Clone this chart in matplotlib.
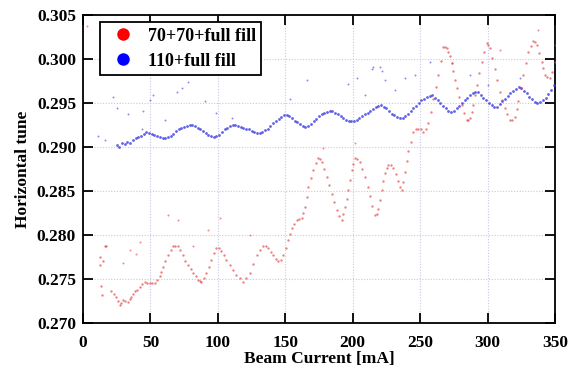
import matplotlib
matplotlib.use("Agg")
import matplotlib.pyplot as plt
from matplotlib.lines import Line2D

# ---- data ----
blue_x = [25, 27, 29, 31, 33, 35, 37, 39, 41, 43, 45, 47, 49, 51, 53, 55, 57, 59, 61, 63,
          65, 67, 69, 71, 73, 75, 77, 79, 81, 83, 85, 87, 89, 91, 93, 95, 97, 99, 101, 103,
          105, 107, 109, 111, 113, 115, 117, 119, 121, 123, 125, 127, 129, 131, 133, 135, 137, 139, 141, 143,
          145, 147, 149, 151, 153, 155, 157, 159, 161, 163, 165, 167, 169, 171, 173, 175, 177, 179, 181, 183,
          185, 187, 189, 191, 193, 195, 197, 199, 201, 203, 205, 207, 209, 211, 213, 215, 217, 219, 221, 223,
          225, 227, 229, 231, 233, 235, 237, 239, 241, 243, 245, 247, 249, 251, 253, 255, 257, 259, 261, 263,
          265, 267, 269, 271, 273, 275, 277, 279, 281, 283, 285, 287, 289, 291, 293, 295, 297, 299, 301, 303,
          305, 307, 309, 311, 313, 315, 317, 319, 321, 323, 325, 327, 329, 331, 333, 335, 337, 339, 341, 343,
          345, 347, 349]
blue_y = [.2902, .2900, .2904, .2903, .2906, .2905, .2908, .2910, .2911, .2913, .2915, .2917, .2916, .2915, .2914, .2912, .2911, .2910, .2910, .2911,
          .2913, .2915, .2918, .2920, .2922, .2923, .2924, .2925, .2925, .2924, .2922, .2920, .2918, .2916, .2914, .2912, .2911, .2912, .2914, .2917,
          .2920, .2922, .2924, .2925, .2925, .2924, .2923, .2922, .2921, .2920, .2918, .2917, .2916, .2916, .2917, .2919, .2921, .2924, .2927, .2930,
          .2932, .2934, .2936, .2936, .2935, .2933, .2930, .2928, .2926, .2924, .2923, .2924, .2926, .2929, .2932, .2935, .2937, .2939, .2940, .2941,
          .2941, .2939, .2937, .2935, .2933, .2931, .2930, .2929, .2929, .2931, .2933, .2935, .2937, .2939, .2941, .2943, .2945, .2947, .2948, .2946,
          .2944, .2941, .2938, .2936, .2934, .2933, .2933, .2935, .2938, .2941, .2944, .2947, .2950, .2953, .2955, .2957, .2958, .2959, .2956, .2953,
          .2950, .2947, .2944, .2941, .2940, .2941, .2944, .2947, .2950, .2953, .2956, .2959, .2961, .2963, .2962, .2959, .2956, .2953, .2950, .2948,
          .2946, .2946, .2949, .2952, .2955, .2958, .2961, .2964, .2966, .2968, .2967, .2964, .2961, .2957, .2954, .2951, .2950, .2951, .2953, .2956,
          .2960, .2965, .2970]
blue_out_x = [78, 69.5, 73.2, 52, 22.5, 25, 165.9, 153.5, 90.5, 110.3, 60.8, 43.5, 11.3, 16.3, 215.3, 220.2, 214,
              221.5, 203, 196.7, 209.1, 231.4, 238.8, 246.2, 257.3, 287, 300.5, 324, 224, 33.4, 44.5, 98.8, 49.4]
blue_out_y = [.2974, .2963, .2967, .2959, .2957, .2944, .2976, .2955, .2952, .2933, .2931, .2921, .2912, .2908, .2991, .2991, .2989,
              .2986, .2978, .2972, .2959, .2965, .2978, .2982, .2997, .2982, .2971, .2978, .2976, .2938, .2941, .2939, .2953]

red_x = [12.4, 14.8, 17.3, 13.6, 12.6, 16.3, 13.8, 21, 24.7, 27.2, 29.7, 33.4, 35.8, 38.3, 42, 45.7, 49.4, 53.2, 56.9, 59.3,
         63, 66.7, 70.4, 74.2, 77.9, 81.6, 85.3, 87.7, 91.4, 95.1, 98.8, 102.6, 106.3, 111.2, 116.2, 118.6, 123.6, 128.8, 133.7, 137.4,
         141.1, 144.8, 148.5, 152.2, 154.7, 158.5, 162.2, 164.6, 167.1, 170.8, 174.5, 177, 180.7, 184.4, 188.1, 191.8, 194.3, 196.7, 199.2, 201.7,
         205.4, 209.1, 212.8, 216.5, 219, 221.5, 223.9, 226.4, 230.1, 233.8, 236.3, 238.8, 241.2, 244.9, 248.6, 252.3, 256, 259.7, 263.4, 267.2,
         269.6, 272.1, 274.6, 277, 280.8, 284.5, 287, 289.4, 291.9, 295.6, 299.3, 301.8, 305.5, 309.2, 312.9, 316.6, 320.4, 322.8, 326.5, 330.3,
         334, 336.4, 340.1, 342.6, 346.3, 350,
         23, 26, 28.5, 31.5, 34.6, 37, 40, 44, 47.5, 51.3, 55, 58, 61, 65, 68.5, 72.3, 76, 79.8, 83.5, 86.5,
         89.5, 93.2, 97, 100.7, 104.5, 108.8, 113.7, 121, 126.2, 131.2, 135.5, 139.3, 143, 146.6, 150.3, 153.5, 156.6, 160.3, 163.4, 165.8,
         169, 172.6, 175.7, 178.8, 182.5, 186.2, 190, 193, 195.5, 198, 200.5, 203.5, 207.2, 211, 214.6, 217.8, 220.2, 222.7, 225.1, 228.2,
         232, 235, 237.5, 240, 243, 246.7, 250.4, 254.1, 257.8, 261.5, 265.3, 268.4, 270.8, 273.3, 275.8, 278.9, 282.6, 285.7, 288.2, 290.6,
         293.7, 297.4, 300.5, 303.6, 307.3, 311, 314.7, 318.5, 321.6, 324.6, 328.4, 332.1, 335.2, 338.2, 341.3, 344.4, 348]
red_y = [.2775, .2770, .2788, .2742, .2766, .2787, .2732, .2736, .2730, .2721, .2726, .2724, .2730, .2736, .2741, .2747, .2745, .2746, .2753, .2764,
         .2777, .2787, .2788, .2777, .2766, .2757, .2749, .2747, .2757, .2772, .2785, .2782, .2772, .2760, .2751, .2747, .2757, .2777, .2787, .2785,
         .2777, .2770, .2777, .2794, .2808, .2817, .2819, .2832, .2855, .2874, .2887, .2883, .2866, .2847, .2828, .2817, .2832, .2851, .2874, .2887,
         .2883, .2866, .2844, .2823, .2830, .2851, .2870, .2880, .2876, .2861, .2851, .2872, .2895, .2917, .2921, .2917, .2927, .2955, .2982, .3014,
         .3012, .3003, .2986, .2967, .2948, .2931, .2933, .2948, .2971, .2997, .3018, .3012, .2989, .2963, .2944, .2931, .2934, .2952, .2982, .3008,
         .3020, .3016, .2997, .2982, .2978, .2997,
         .2733, .2725, .2723, .2725, .2727, .2733, .2738, .2744, .2746, .2745, .2749, .2758, .2770, .2783, .2788, .2783, .2771, .2761, .2753, .2748,
         .2751, .2764, .2779, .2785, .2777, .2766, .2755, .2751, .2767, .2783, .2787, .2781, .2773, .2772, .2785, .2801, .2813, .2818, .2825, .2843,
         .2865, .2882, .2886, .2875, .2857, .2837, .2822, .2824, .2841, .2862, .2881, .2886, .2875, .2855, .2833, .2824, .2840, .2861, .2876, .2879,
         .2869, .2855, .2860, .2884, .2906, .2920, .2920, .2921, .2940, .2968, .2998, .3014, .3008, .2995, .2976, .2957, .2939, .2931, .2940, .2959,
         .2984, .3008, .3016, .3001, .2976, .2953, .2937, .2931, .2943, .2967, .2995, .3015, .3019, .3007, .2990, .2979, .2985]
red_out_x = [2.7, 273.4, 309.2, 337.6, 350, 201.7, 178.2, 63.3, 70.7, 101.6, 92.9, 42.3, 34.9, 29.7, 39.5, 81.6, 123.8]
red_out_y = [.3037, .2995, .3010, .3033, .3016, .2905, .2899, .2823, .2817, .2819, .2806, .2792, .2783, .2768, .2778, .2787, .2800]

series_labels = ["70+70+full fill", "110+full fill"]
x_ticks = [0, 50, 100, 150, 200, 250, 300, 350]
y_ticks = [0.270, 0.275, 0.280, 0.285, 0.290, 0.295, 0.300, 0.305]

# ---- plot ----
plt.rcParams['font.family'] = ['Liberation Serif', 'DejaVu Serif']
plt.rcParams['font.weight'] = 'bold'

fig = plt.figure(figsize=(5.7, 3.75), dpi=100)
ax = fig.add_axes([0.1456, 0.1387, 0.828, 0.8213])

red_c = '#e23a3a'
blue_c = '#3a3ae2'
ax.plot(blue_x, blue_y, 'o', ms=2.0, mew=0, color=blue_c, alpha=0.8, zorder=3)
ax.plot(blue_out_x, blue_out_y, 'o', ms=1.4, mew=0, color=blue_c, alpha=0.6, zorder=3)
ax.plot(red_x, red_y, 'o', ms=1.7, mew=0, color=red_c, alpha=0.65, zorder=3)
ax.plot(red_out_x, red_out_y, 'o', ms=1.4, mew=0, color=red_c, alpha=0.6, zorder=3)

ax.set_xlim(0, 350)
ax.set_ylim(0.270, 0.305)
ax.set_xticks(x_ticks)
ax.set_yticks(y_ticks)
ax.set_xticklabels([str(v) for v in x_ticks])
ax.set_yticklabels(["%.3f" % v for v in y_ticks])
ax.grid(True, linestyle=(0, (1, 1.5)), color='#c8c8e6', linewidth=0.8)
ax.tick_params(direction='in', length=7, width=1.3, top=True, right=True,
               labelsize=12.5)
ax.tick_params(axis='x', pad=9)
ax.tick_params(axis='y', pad=5)
for s in ax.spines.values():
    s.set_linewidth(1.3)
ax.set_xlabel("Beam Current [mA]", fontsize=12.5, fontweight='bold', labelpad=0)
ax.set_ylabel("Horizontal tune", fontsize=12.5, fontweight='bold', labelpad=4)

handles = [Line2D([], [], ls='', marker='o', ms=9, color='#ff0000', mew=0),
           Line2D([], [], ls='', marker='o', ms=9, color='#0000ff', mew=0)]
leg = ax.legend(handles, series_labels, loc='upper left', bbox_to_anchor=(0.036, 0.977),
                prop={'family': 'Liberation Serif', 'weight': 'bold', 'size': 13},
                frameon=True, fancybox=False, edgecolor='black', framealpha=1,
                handletextpad=0.35, borderpad=0.3, labelspacing=0.45, handlelength=2.0,
                borderaxespad=0)
leg.get_frame().set_linewidth(1.3)

fig.savefig("out.png", dpi=100)
